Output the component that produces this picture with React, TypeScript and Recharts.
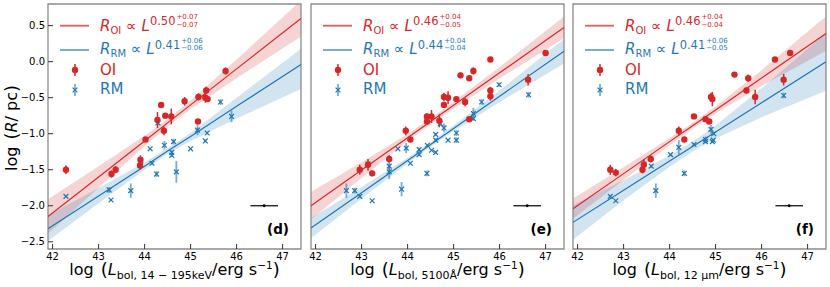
import React from 'react';
import { ComposedChart, Scatter, Line, Area, XAxis, YAxis, ErrorBar, ReferenceArea } from 'recharts';

const RED = '#d62728';
const BLUE = '#1f77b4';
const FONT = '"DejaVu Sans", sans-serif';

const xTicks = [42, 43, 44, 45, 46, 47];
const yTicks = [-2.5, -2, -1.5, -1, -0.5, 0, 0.5];
const fitX = [41.9, 43, 44, 44.5, 45, 46, 47.4];

// (d) 14-195 keV
const oiXd = [45.76, 45.17, 45.34, 45.32, 45.37, 44.87, 44.36, 44.45, 44.58, 44.28, 44.42, 45.16, 44.02, 42.29, 43.28, 43.37, 43.91, 43.9];
const oiYd = [-0.13, -0.49, -0.4, -0.5, -0.52, -0.55, -0.6, -0.75, -0.76, -0.81, -0.96, -0.83, -1.08, -1.5, -1.56, -1.5, -1.36, -1.44];
const oiEd = [0.05, 0.05, 0.05, 0.07, 0.04, 0.06, 0.04, 0.03, 0.11, 0.11, 0.06, 0.03, 0.03, 0.06, 0.05, 0.05, 0.06, 0.06];
const rmXd = [45.65, 45.89, 45.15, 45.36, 45.32, 44.29, 44.63, 44.43, 45.0, 44.12, 44.59, 44.59, 44.16, 43.92, 44.26, 44.69, 43.23, 43.27, 43.7, 42.29];
const rmYd = [-0.56, -0.76, -0.95, -0.99, -1.1, -0.85, -1.11, -1.16, -1.21, -1.21, -1.26, -1.3, -1.41, -1.43, -1.56, -1.53, -1.78, -1.92, -1.79, -1.87];
const rmEd = [0.04, 0.08, 0.07, 0.02, 0.02, 0.03, 0.04, 0.06, 0.01, 0.01, 0.03, 0.02, 0.02, 0.04, 0.04, 0.15, 0.04, 0.01, 0.1, 0.01];
const oiFitD = [-2.15, -1.6, -1.1, -0.85, -0.6, -0.1, 0.6];
const oiLoD = [-2.39, -1.75, -1.17, -0.9, -0.66, -0.23, 0.35];
const oiHiD = [-1.91, -1.45, -1.03, -0.8, -0.54, 0.03, 0.85];
const rmFitD = [-2.32, -1.865, -1.45, -1.24, -1.04, -0.62, -0.04];
const rmLoD = [-2.49, -1.965, -1.5, -1.28, -1.1, -0.79, -0.38];
const rmHiD = [-2.13, -1.755, -1.4, -1.2, -0.99, -0.5, 0.18];

// (e) 5100 A
const oiXe = [45.8, 47.0, 45.15, 45.34, 45.43, 45.8, 45.8, 46.62, 45.06, 45.25, 44.79, 44.88, 44.79, 44.42, 44.52, 44.42, 44.69, 45.34, 43.96, 44.06, 42.96, 43.14, 43.23, 43.6];
const oiYe = [0.03, 0.12, -0.19, -0.23, -0.13, -0.4, -0.48, -0.25, -0.52, -0.56, -0.49, -0.5, -0.6, -0.76, -0.76, -0.83, -0.82, -0.8, -0.96, -1.08, -1.5, -1.43, -1.55, -1.35];
const oiEe = [0.03, 0.02, 0.04, 0.04, 0.05, 0.05, 0.06, 0.08, 0.03, 0.06, 0.06, 0.09, 0.04, 0.04, 0.09, 0.03, 0.09, 0.03, 0.06, 0.03, 0.07, 0.08, 0.04, 0.05];
const rmXe = [45.99, 46.63, 45.61, 45.43, 45.43, 44.71, 44.79, 44.61, 45.06, 45.06, 44.88, 44.61, 44.43, 44.25, 43.97, 43.79, 44.25, 44.52, 44.61, 44.06, 43.6, 43.6, 43.14, 44.42, 42.67, 42.85, 42.96, 43.23, 43.87];
const rmYe = [-0.32, -0.46, -0.56, -0.72, -0.79, -0.86, -0.92, -1.01, -0.99, -1.09, -1.09, -1.09, -1.16, -1.22, -1.2, -1.21, -1.29, -1.23, -1.26, -1.41, -1.45, -1.53, -1.42, -1.55, -1.79, -1.79, -1.87, -1.93, -1.77];
const rmEe = [0.03, 0.04, 0.04, 0.08, 0.03, 0.03, 0.06, 0.02, 0.04, 0.04, 0.01, 0.02, 0.01, 0.03, 0.07, 0.01, 0.02, 0.01, 0.02, 0.01, 0.06, 0.1, 0.03, 0.04, 0.1, 0.04, 0.01, 0.01, 0.1];
const oiFitE = [-2.0, -1.505, -1.055, -0.83, -0.605, -0.155, 0.475];
const oiLoE = [-2.19, -1.615, -1.105, -0.87, -0.655, -0.235, 0.325];
const oiHiE = [-1.81, -1.395, -1.005, -0.79, -0.555, -0.075, 0.625];
const rmFitE = [-2.31, -1.82, -1.373, -1.15, -0.927, -0.48, 0.143];
const rmLoE = [-2.45, -1.9, -1.413, -1.18, -0.967, -0.56, -0.027];
const rmHiE = [-2.17, -1.74, -1.333, -1.12, -0.887, -0.4, 0.313];

// (f) 12 micron
const oiXf = [46.62, 46.29, 46.48, 45.41, 45.71, 45.67, 45.86, 44.9, 44.93, 44.53, 44.78, 44.86, 44.2, 44.32, 42.71, 42.83, 43.41, 43.44, 43.59];
const oiYf = [0.12, 0.03, -0.25, -0.18, -0.23, -0.4, -0.49, -0.49, -0.52, -0.76, -0.8, -0.83, -0.96, -1.08, -1.5, -1.54, -1.5, -1.43, -1.35];
const oiEf = [0.02, 0.03, 0.08, 0.03, 0.05, 0.04, 0.1, 0.06, 0.1, 0.02, 0.02, 0.02, 0.06, 0.02, 0.07, 0.05, 0.05, 0.08, 0.05];
const rmXf = [46.48, 44.9, 44.96, 44.95, 44.78, 44.53, 44.2, 44.02, 43.6, 43.44, 44.32, 43.7, 42.71, 42.83, 44.78, 44.93];
const rmYf = [-0.47, -0.94, -1.0, -1.09, -1.08, -1.15, -1.19, -1.29, -1.45, -1.42, -1.55, -1.79, -1.87, -1.93, -1.11, -1.11];
const rmEf = [0.04, 0.06, 0.02, 0.02, 0.04, 0.02, 0.1, 0.01, 0.02, 0.05, 0.04, 0.1, 0.01, 0.01, 0.02, 0.01];
const oiFitF = [-2.04, -1.554, -1.11, -0.891, -0.67, -0.228, 0.39];
const oiLoF = [-2.18, -1.644, -1.16, -0.931, -0.72, -0.338, 0.15];
const oiHiF = [-1.9, -1.464, -1.06, -0.851, -0.62, -0.118, 0.63];
const rmFitF = [-2.23, -1.785, -1.38, -1.177, -0.975, -0.57, -0.003];
const rmLoF = [-2.47, -1.925, -1.46, -1.247, -1.065, -0.77, -0.403];
const rmHiF = [-1.99, -1.645, -1.3, -1.107, -0.885, -0.37, 0.397];

// typical uncertainty marker
const refX = [46.6];
const refY = [-2.0];
const refErr = [0.3];

const pts = (xs: number[], ys: number[], es: number[]) => xs.map((x, i) => ({ x, y: ys[i], e: es[i] }));
const fitData = (of: number[], ol: number[], oh: number[], rf: number[], rl: number[], rh: number[]) =>
  fitX.map((x, i) => ({ x, oiFit: of[i], oiBand: [ol[i], oh[i]], rmFit: rf[i], rmBand: [rl[i], rh[i]] }));

const panels = [
  {
    tag: '(d)', left: 48, showY: true, sub: 'bol, 14 − 195keV',
    oi: pts(oiXd, oiYd, oiEd), rm: pts(rmXd, rmYd, rmEd),
    fit: fitData(oiFitD, oiLoD, oiHiD, rmFitD, rmLoD, rmHiD),
    oiExp: ['0.50', '+0.07', '−0.07'], rmExp: ['0.41', '+0.06', '−0.06'],
  },
  {
    tag: '(e)', left: 311, showY: false, sub: 'bol, 5100Å',
    oi: pts(oiXe, oiYe, oiEe), rm: pts(rmXe, rmYe, rmEe),
    fit: fitData(oiFitE, oiLoE, oiHiE, rmFitE, rmLoE, rmHiE),
    oiExp: ['0.46', '+0.04', '−0.05'], rmExp: ['0.44', '+0.04', '−0.04'],
  },
  {
    tag: '(f)', left: 573, showY: false, sub: 'bol, 12 μm',
    oi: pts(oiXf, oiYf, oiEf), rm: pts(rmXf, rmYf, rmEf),
    fit: fitData(oiFitF, oiLoF, oiHiF, rmFitF, rmLoF, rmHiF),
    oiExp: ['0.46', '+0.04', '−0.04'], rmExp: ['0.41', '+0.06', '−0.05'],
  },
];

const PW = 253;
const PT = 4;
const PH = 245;

const fmtY = (v: number) => v.toFixed(1).replace('-', '−');

const Dot = (p: any) => <circle cx={p.cx} cy={p.cy} r={3.2} fill={RED} />;
const XMark = (p: any) => {
  const s = 2.4;
  const { cx, cy } = p;
  return <path d={`M${cx - s},${cy - s}L${cx + s},${cy + s}M${cx - s},${cy + s}L${cx + s},${cy - s}`} stroke={BLUE} strokeWidth={1.2} fill="none" />;
};
const RefDot = (p: any) => <circle cx={p.cx} cy={p.cy} r={1.4} fill="#000" />;

const rel = (style: React.CSSProperties): React.CSSProperties => ({ position: 'relative', lineHeight: 0, ...style });

// exponent with stacked upper/lower errors
const Exp = ({ v }: { v: string[] }) => (
  <>
    <span style={rel({ fontSize: 11.5, top: -5.7 })}>{v[0]}</span>
    <span style={{ position: 'relative', display: 'inline-block', fontSize: 7, lineHeight: '7px', height: 7, top: -11.6, marginLeft: 1 }}>
      {v[1]}
      <span style={{ position: 'absolute', left: 0, top: 7.3 }}>{v[2]}</span>
    </span>
  </>
);

const textAt = (left: number, baseline: number, color: string, size = 15): React.CSSProperties => ({
  position: 'absolute', left, top: baseline - (size - 1.164 * size) / 2 - 0.928 * size,
  fontSize: size, lineHeight: `${size}px`, color, whiteSpace: 'nowrap', fontFamily: FONT,
});

const PanelLegend = ({ L, cfg }: { L: number; cfg: any }) => (
  <>
    <svg width={830} height={287} style={{ position: 'absolute', left: 0, top: 0, pointerEvents: 'none' }}>
      <line x1={L + 12} x2={L + 41} y1={25.7} y2={25.7} stroke={RED} strokeOpacity={0.75} strokeWidth={1.8} />
      <line x1={L + 12} x2={L + 41} y1={50} y2={50} stroke={BLUE} strokeOpacity={0.6} strokeWidth={2} />
      <line x1={L + 27} x2={L + 27} y1={64} y2={76} stroke={RED} strokeWidth={1.5} />
      <circle cx={L + 27} cy={70} r={3.2} fill={RED} />
      <line x1={L + 27} x2={L + 27} y1={84} y2={96} stroke={BLUE} strokeOpacity={0.6} strokeWidth={1.8} />
      <path d={`M${L + 24.6},${87.6}L${L + 29.4},${92.4}M${L + 24.6},${92.4}L${L + 29.4},${87.6}`} stroke={BLUE} strokeWidth={1.2} />
    </svg>
    <div style={textAt(L + 52, 31.7, RED)}>
      <i>R</i><span style={rel({ fontSize: 10, top: 2.5 })}>OI</span> ∝ <i>L</i><Exp v={cfg.oiExp} />
    </div>
    <div style={textAt(L + 52, 55, BLUE)}>
      <i>R</i><span style={rel({ fontSize: 10, top: 2.5 })}>RM</span> ∝ <i>L</i><Exp v={cfg.rmExp} />
    </div>
    <div style={textAt(L + 52, 76, RED)}>OI</div>
    <div style={textAt(L + 52, 95, BLUE)}>RM</div>
    <div style={{ ...textAt(L + PW - 12 - 40, 234.5, '#000', 13.5), width: 40, textAlign: 'right', fontWeight: 'bold' }}>{cfg.tag}</div>
    <div style={{ ...textAt(L, 276, '#000', 16), width: PW, textAlign: 'center' }}>
      log <span style={rel({ fontSize: 18, top: 1, marginLeft: 2 })}>(</span>
      <i>L</i><span style={rel({ fontSize: 11, top: 3.5 })}>{cfg.sub}</span>/erg s
      <span style={rel({ fontSize: 10.5, top: -6 })}>−1</span>
      <span style={rel({ fontSize: 18, top: 1 })}>)</span>
    </div>
  </>
);

const Panel = ({ cfg }: { cfg: any }) => {
  const yW = cfg.showY ? 48 : 6;
  return (
    <>
      <div style={{ position: 'absolute', left: cfg.left - yW, top: 0 }}>
        <ComposedChart width={yW + PW + 4} height={PT + PH + 20} margin={{ top: PT, right: 4, bottom: 0, left: 0 }}>
          <XAxis type="number" dataKey="x" domain={[41.9, 47.4]} ticks={xTicks} interval={0} allowDataOverflow
            height={20} tickSize={-5} tickMargin={8.5} axisLine={false} tickLine={{ stroke: '#333' }}
            tick={{ fontSize: 10, fill: '#000', fontFamily: FONT }} />
          <YAxis type="number" domain={[-2.6, 0.8]} ticks={yTicks} interval={0} allowDataOverflow width={yW}
            tickSize={-5} tickMargin={8} axisLine={false} tickLine={{ stroke: '#333' }} tickFormatter={fmtY}
            tick={cfg.showY ? { fontSize: 10, fill: '#000', fontFamily: FONT } : false} />
          <Area data={cfg.fit} dataKey="oiBand" type="linear" stroke="none" fill={RED} fillOpacity={0.2} isAnimationActive={false} />
          <Area data={cfg.fit} dataKey="rmBand" type="linear" stroke="none" fill={BLUE} fillOpacity={0.2} isAnimationActive={false} />
          <Line data={cfg.fit} dataKey="oiFit" type="linear" stroke={RED} strokeWidth={1.2} dot={false} isAnimationActive={false} />
          <Line data={cfg.fit} dataKey="rmFit" type="linear" stroke={BLUE} strokeWidth={1.2} dot={false} isAnimationActive={false} />
          <Scatter data={cfg.rm} dataKey="y" shape={XMark} isAnimationActive={false}>
            <ErrorBar dataKey="e" direction="y" width={0} stroke={BLUE} strokeOpacity={0.6} strokeWidth={1.8} />
          </Scatter>
          <Scatter data={cfg.oi} dataKey="y" shape={Dot} isAnimationActive={false}>
            <ErrorBar dataKey="e" direction="y" width={0} stroke={RED} strokeWidth={1.5} />
          </Scatter>
          <Scatter data={pts(refX, refY, refErr)} dataKey="y" shape={RefDot} isAnimationActive={false}>
            <ErrorBar dataKey="e" direction="x" width={0} stroke="#000" strokeWidth={1.2} />
          </Scatter>
          <ReferenceArea x1={41.9} x2={47.4} y1={-2.6} y2={0.8} fill="none" stroke="#8c8c8c" strokeWidth={1.3} ifOverflow="visible" />
        </ComposedChart>
      </div>
      <PanelLegend L={cfg.left} cfg={cfg} />
    </>
  );
};

export default function App() {
  return (
    <div style={{ position: 'absolute', left: 0, top: 0, width: 830, height: 287, background: '#fff', fontFamily: FONT, overflow: 'hidden' }}>
      {panels.map((p) => <Panel key={p.tag} cfg={p} />)}
      <div style={{ position: 'absolute', left: 11.5 - 60, top: 127.5 - 12, width: 120, height: 24, lineHeight: '24px', textAlign: 'center', fontSize: 16, transform: 'rotate(-90deg)', whiteSpace: 'nowrap', color: '#000' }}>
        log <span style={rel({ fontSize: 18, top: 1, marginLeft: 2 })}>(</span><i>R</i>/ pc<span style={rel({ fontSize: 18, top: 1 })}>)</span>
      </div>
    </div>
  );
}
